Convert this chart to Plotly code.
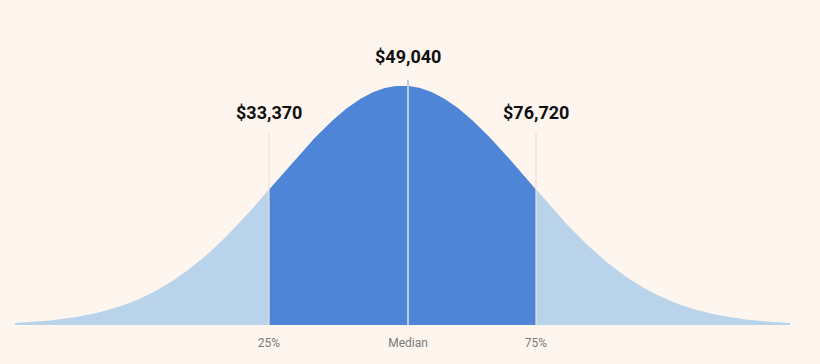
import numpy as np
import plotly.graph_objects as go

# Data
percentile_labels = ["25%", "Median", "75%"]
salaries = [33370, 49040, 76720]
# marker positions on the standardized bell curve axis (z units)
marker_z = [-1.068, 0.044, 1.068]

BG = "#fef5ee"
DARK = "#4f85d6"
LIGHT = "#b8d3ea"

z = np.linspace(-3.1, 3.1, 621)
pdf = np.exp(-z**2 / 2)

fig = go.Figure()
fig.add_trace(go.Scatter(x=z, y=pdf, mode="lines", line=dict(width=0, color=LIGHT),
                         fill="tozeroy", fillcolor=LIGHT, hoverinfo="skip"))
mask = (z >= marker_z[0]) & (z <= marker_z[2])
zm = np.concatenate([[marker_z[0]], z[mask], [marker_z[2]]])
fig.add_trace(go.Scatter(x=zm, y=np.exp(-zm**2 / 2), mode="lines", line=dict(width=0, color=DARK),
                         fill="tozeroy", fillcolor=DARK, hoverinfo="skip"))

line_tops = [0.803, 1.025, 0.803]
label_y = [0.887, 1.121, 0.887]
line_colors = ["#ebe1d8", "#b4cdf0", "#ebe1d8"]
line_widths = [1.2, 2, 1.2]
for i in range(3):
    fig.add_shape(type="line", x0=marker_z[i], x1=marker_z[i], y0=0, y1=line_tops[i],
                  line=dict(color=line_colors[i], width=line_widths[i]), layer="above")
    fig.add_annotation(x=marker_z[i], y=label_y[i], text="<b>${:,}</b>".format(salaries[i]),
                       showarrow=False, font=dict(family="Roboto", size=18, color="#111111"),
                       xanchor="center", yanchor="middle")

fig.update_layout(
    width=820, height=364,
    margin=dict(l=15, r=30, t=14, b=39),
    paper_bgcolor=BG, plot_bgcolor=BG,
    showlegend=False,
    xaxis=dict(range=[-3.1, 3.1], showgrid=False, zeroline=False, showline=False,
               tickvals=marker_z, ticktext=percentile_labels, ticks="",
               ticklabelstandoff=9,
               tickfont=dict(family="Roboto", size=12, color="#7a7a7a")),
    yaxis=dict(range=[0, 1.3], showgrid=False, zeroline=False, showline=False,
               showticklabels=False),
)
fig.write_html("out.html", config={"displayModeBar": False},
               post_script="document.body.style.margin='0';document.body.style.background='%s';" % BG)
